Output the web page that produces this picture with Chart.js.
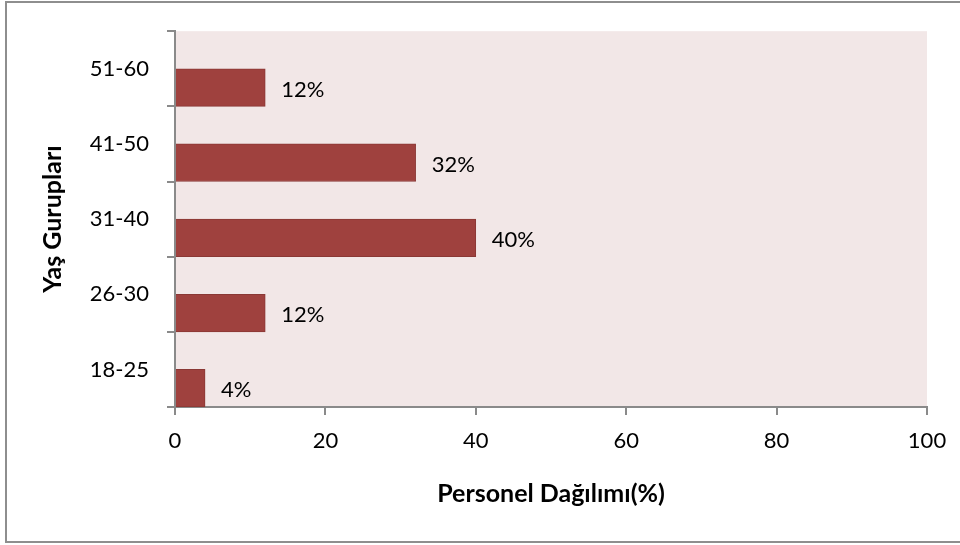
<!DOCTYPE html>
<html>
<head>
<meta charset="utf-8">
<script src="https://cdn.jsdelivr.net/npm/chart.js@4.4.1/dist/chart.umd.min.js"></script>
<style>
    body { margin: 0; background: #fff; }
    #wrap { width: 960px; height: 545px; }
</style>
</head>
<body>
<div id="wrap"><canvas id="barChart" width="960" height="545"></canvas></div>
<script>
// listed top to bottom, as in the picture
const ageGroups = ['51-60', '41-50', '31-40', '26-30', '18-25'];
const staffShare = [12, 32, 40, 12, 4];
// empty first series, the bars sit in the lower half of each band
const emptySeries = [null, null, null, null, null];
const xTicks = [0, 20, 40, 60, 80, 100];

const axisGrey = '#8a8a8a';
const fontName = 'Lato, "DejaVu Sans", sans-serif';

const decor = {
    id: 'decor',
    beforeDraw(chart) {
        const { ctx, chartArea: a } = chart;
        ctx.save();
        ctx.fillStyle = '#f2e7e7';
        ctx.fillRect(a.left, a.top, a.right - a.left, a.bottom - a.top);
        // outer frame (right side falls off the picture)
        ctx.strokeStyle = '#8e8e8e';
        ctx.lineWidth = 2;
        ctx.beginPath();
        ctx.moveTo(962, 2);
        ctx.lineTo(6, 2);
        ctx.lineTo(6, 542);
        ctx.lineTo(962, 542);
        ctx.stroke();
        ctx.restore();
    },
    afterDatasetsDraw(chart) {
        const { ctx } = chart;
        const meta = chart.getDatasetMeta(1);
        ctx.save();
        ctx.font = '22px ' + fontName;
        ctx.fillStyle = '#000';
        ctx.textAlign = 'left';
        ctx.textBaseline = 'middle';
        meta.data.forEach((bar, i) => {
            ctx.fillText(staffShare[i] + '%', bar.x + 16, bar.y + 2);
        });
        ctx.restore();
    }
};

new Chart(document.getElementById('barChart'), {
    type: 'bar',
    data: {
        labels: ageGroups,
        datasets: [
            { data: emptySeries },
            {
                data: staffShare,
                backgroundColor: '#9f413e',
                borderColor: '#8a3835',
                borderWidth: 1
            }
        ]
    },
    options: {
        indexAxis: 'y',
        responsive: false,
        animation: false,
        barPercentage: 1,
        categoryPercentage: 1,
        layout: { padding: { left: 30, right: 33, top: 27, bottom: 0 } },
        plugins: { legend: { display: false }, tooltip: { enabled: false } },
        scales: {
            x: {
                min: 0,
                max: 100,
                afterBuildTicks: s => { s.ticks = xTicks.map(v => ({ value: v })); },
                afterFit: s => { s.height = 138; },
                grid: { drawOnChartArea: false, tickLength: 8, color: axisGrey, lineWidth: 2 },
                border: { color: axisGrey, width: 2 },
                ticks: { color: '#000', padding: 13, font: { family: fontName, size: 22 } },
                title: {
                    display: true,
                    text: 'Personel Dağılımı(%)',
                    color: '#000',
                    font: { family: fontName, size: 25, weight: 'bold' },
                    padding: { top: 0, bottom: 36 }
                }
            },
            y: {
                afterFit: s => { s.width = 145; },
                grid: { drawOnChartArea: false, tickLength: 8, color: axisGrey, lineWidth: 2, offset: true },
                border: { color: axisGrey, width: 2 },
                ticks: { color: '#000', padding: 18, font: { family: fontName, size: 22 } },
                title: {
                    display: true,
                    text: 'Yaş Gurupları',
                    color: '#000',
                    font: { family: fontName, size: 25, weight: 'bold' },
                    padding: { top: 8, bottom: 0 }
                }
            }
        }
    },
    plugins: [decor]
});
</script>
</body>
</html>
